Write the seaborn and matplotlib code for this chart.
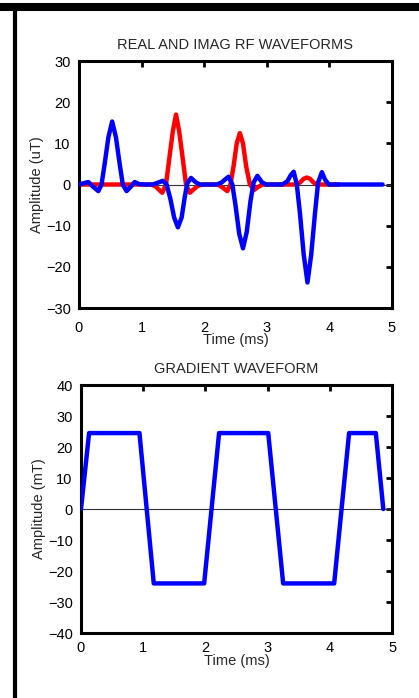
import matplotlib
matplotlib.use("Agg")
import matplotlib.pyplot as plt
from matplotlib.lines import Line2D
import pandas as pd
import seaborn as sns

# RF pulse samples: time (ms) and amplitude (uT)
imag_time = [0.00, 0.07, 0.15, 0.23, 0.31, 0.36, 0.41, 0.47, 0.53, 0.59, 0.65, 0.70,
             0.76, 0.83, 0.89, 0.96, 1.05, 1.18, 1.27, 1.34, 1.40, 1.46, 1.52, 1.58,
             1.64, 1.69, 1.73, 1.79, 1.86, 1.93, 2.20, 2.28, 2.34, 2.39, 2.45, 2.50,
             2.56, 2.62, 2.68, 2.74, 2.79, 2.85, 2.92, 2.99, 3.25, 3.33, 3.38, 3.43,
             3.48, 3.53, 3.59, 3.65, 3.71, 3.77, 3.82, 3.88, 3.93, 3.99, 4.85]
imag_amp = [0.0, 0.3, 0.6, -0.6, -1.6, 0.0, 5.0, 11.5, 15.3, 11.5, 5.0, 0.0,
            -1.6, -0.5, 0.6, 0.1, 0.0, 0.0, 0.5, 0.9, 0.0, -3.5, -8.0, -10.4,
            -8.0, -3.0, 0.3, 1.6, 0.6, 0.0, 0.0, 0.5, 1.3, 1.9, 0.0, -5.0,
            -12.0, -15.5, -11.5, -4.0, 0.5, 2.1, 0.6, 0.0, 0.0, 0.8, 2.2, 3.1,
            0.0, -7.0, -17.0, -23.8, -17.0, -7.0, 0.5, 3.0, 1.2, 0.0, 0.0]

real_time = [0.00, 1.15, 1.22, 1.28, 1.33, 1.39, 1.44, 1.50, 1.55, 1.60, 1.66, 1.71,
             1.77, 1.83, 1.90, 1.98, 2.22, 2.30, 2.37, 2.42, 2.47, 2.52, 2.57, 2.62,
             2.67, 2.73, 2.80, 2.86, 2.93, 3.48, 3.54, 3.59, 3.64, 3.69, 3.74, 3.79,
             4.15]
real_amp = [0.0, 0.0, -0.4, -1.3, -2.0, 0.0, 6.0, 13.0, 17.0, 13.0, 6.0, 0.0,
            -2.0, -1.2, -0.3, 0.0, 0.0, -0.8, -1.6, 0.0, 4.5, 10.0, 12.5, 10.0,
            4.5, 0.0, -1.3, -0.6, 0.0, 0.0, 0.6, 1.4, 1.7, 1.4, 0.6, 0.0,
            0.0]

# Gradient trapezoid corners: time (ms) and amplitude (mT)
grad_time = [0.00, 0.13, 0.94, 1.17, 1.98, 2.22, 3.01, 3.25, 4.07, 4.31, 4.74, 4.86]
grad_amp = [0.0, 24.5, 24.5, -24.0, -24.0, 24.5, 24.5, -24.0, -24.0, 24.5, 24.5, 0.0]

x_ticks = [0, 1, 2, 3, 4, 5]
rf_ticks = [-30, -20, -10, 0, 10, 20, 30]
grad_ticks = [-40, -30, -20, -10, 0, 10, 20, 30, 40]

sns.set_style("white")
plt.rcParams["font.family"] = ["Liberation Sans", "DejaVu Sans"]
plt.rcParams["font.size"] = 10.5

rf_imag = pd.DataFrame({"t": imag_time, "a": imag_amp})
rf_real = pd.DataFrame({"t": real_time, "a": real_amp})
grad = pd.DataFrame({"t": grad_time, "a": grad_amp})

fig = plt.figure(figsize=(4.19, 6.98), dpi=100)
ax1 = fig.add_axes([0.1885, 0.5587, 0.747, 0.3539])
ax2 = fig.add_axes([0.1933, 0.0931, 0.7423, 0.3553])

LW = 3.2
FS = 10.5


def style_axes(ax, yticks, ylabel, title, pad):
    ax.axhline(0, color="#333333", lw=0.8, zorder=1)
    ax.set_xlim(0, 5)
    ax.set_ylim(yticks[0], yticks[-1])
    ax.set_xticks(x_ticks)
    ax.set_yticks(yticks)
    ax.tick_params(direction="in", top=True, right=True, length=4, width=2,
                   labelsize=FS, colors="black")
    ax.tick_params(axis="x", pad=pad)
    ax.tick_params(axis="y", pad=6)
    for s in ax.spines.values():
        s.set_linewidth(2.2)
        s.set_color("black")
        s.set_visible(True)
    ax.set_xlabel("Time (ms)", fontsize=FS, labelpad=-1)
    ax.set_ylabel(ylabel, fontsize=FS, labelpad=1)
    ax.set_title(title, fontsize=FS, pad=9)
    ax.set_facecolor("white")


sns.lineplot(data=rf_real, x="t", y="a", color="#ff0000", linewidth=LW,
             ax=ax1, sort=False, estimator=None, zorder=2)
sns.lineplot(data=rf_imag, x="t", y="a", color="#0000ff", linewidth=LW,
             ax=ax1, sort=False, estimator=None, zorder=3)
style_axes(ax1, rf_ticks, "Amplitude (uT)", "REAL AND IMAG RF WAVEFORMS", 9)

sns.lineplot(data=grad, x="t", y="a", color="#0000ff", linewidth=LW,
             ax=ax2, sort=False, estimator=None, zorder=3)
style_axes(ax2, grad_ticks, "Amplitude (mT)", "GRADIENT WAVEFORM", 6)

# Window frame along the top and left edges
fig.add_artist(Line2D([0.0, 1.0], [0.9900, 0.9900], transform=fig.transFigure,
                      color="black", lw=5.8, solid_capstyle="butt"))
fig.add_artist(Line2D([0.0358, 0.0358], [0.0, 0.9957], transform=fig.transFigure,
                      color="black", lw=3.0, solid_capstyle="butt"))

fig.savefig("out.png", dpi=100, facecolor="white")
